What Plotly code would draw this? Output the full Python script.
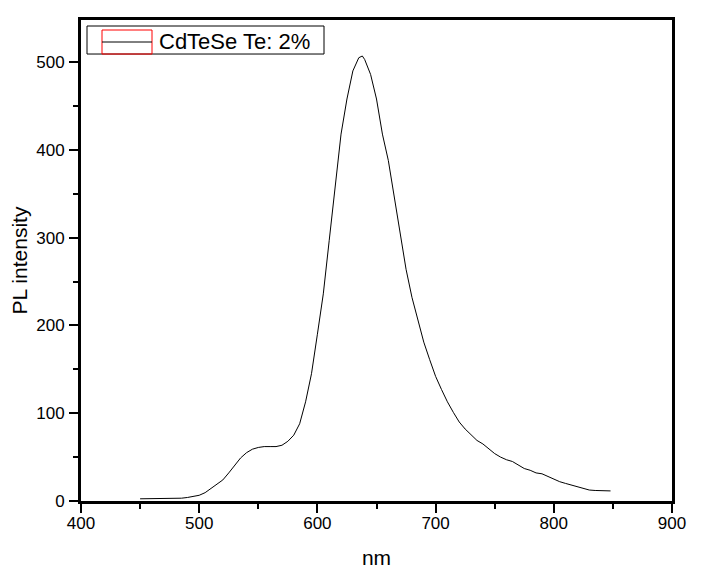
import plotly.graph_objects as go

# PL spectrum
nm = [450, 455, 460, 465, 470, 475, 480, 485, 490, 495,
      500, 505, 510, 515, 520, 525, 530, 535, 540, 545,
      550, 555, 560, 565, 570, 575, 580, 585, 590, 595,
      600, 605, 610, 615, 620, 625, 630, 635, 638, 640,
      645, 650, 655, 660, 665, 670, 675, 680, 685, 690,
      695, 700, 705, 710, 715, 720, 725, 730, 735, 740,
      745, 750, 755, 760, 765, 770, 775, 780, 785, 790,
      795, 800, 805, 810, 815, 820, 825, 830, 835, 840,
      845, 848]
intensity = [2.5, 2.5, 2.5, 2.5, 2.5, 2.7, 2.8, 3.2, 4.0, 5.0,
             6.5, 9.5, 14, 18.5, 24, 32, 41, 49, 55, 59,
             61, 62, 62, 62, 63.5, 68, 75, 88, 113, 145,
             190, 236, 297, 360, 418, 458, 490, 505, 507, 503,
             486, 458, 418, 388, 348, 305, 264, 232, 207, 181,
             161, 142, 127, 113, 101, 90, 82, 75, 69, 65,
             59, 54, 50, 47, 45, 41, 37, 35, 32, 31,
             28, 25, 22, 20, 18, 16, 14, 12.5, 12, 11.5,
             11.5, 11.5]

series_name = "CdTeSe Te: 2%"
x_ticks = [400, 500, 600, 700, 800, 900]
y_ticks = [0, 100, 200, 300, 400, 500]

FONT = "Arial, Liberation Sans, sans-serif"

fig = go.Figure()
fig.add_trace(go.Scatter(x=nm, y=intensity, mode="lines", name=series_name,
                         line=dict(color="black", width=1), showlegend=False))

axis_common = dict(
    showgrid=False, zeroline=False, showline=True, linecolor="black", linewidth=3,
    mirror=True, ticks="outside", ticklen=9, tickwidth=2, tickcolor="black",
    tickfont=dict(family=FONT, size=17, color="black"),
    minor=dict(ticks="outside", ticklen=5, tickwidth=2, tickcolor="black"),
)

fig.update_xaxes(range=[400, 900], tickvals=x_ticks, ticklabelstandoff=-4,
                 minor_dtick=50, minor_tick0=0,
                 title=dict(text="nm", font=dict(family=FONT, size=21, color="black"), standoff=18),
                 **axis_common)
fig.update_yaxes(range=[0, 548], tickvals=y_ticks, ticklabelstandoff=1,
                 minor_dtick=50, minor_tick0=0,
                 title=dict(text="PL intensity", font=dict(family=FONT, size=21, color="black"), standoff=11),
                 **axis_common)

# hand-made legend box like the Origin one (positions in window pixels)
L, T, W, H = 81, 20, 591, 480.7
def px(x):
    return (x - L) / W
def py(y):
    return 1 - (y - T) / H

fig.add_shape(type="rect", xref="paper", yref="paper", x0=px(87), x1=px(324), y0=py(26), y1=py(54),
              line=dict(color="black", width=1), fillcolor="white", layer="above")
fig.add_shape(type="rect", xref="paper", yref="paper", x0=px(102), x1=px(152), y0=py(30), y1=py(54),
              line=dict(color="red", width=1), layer="above")
fig.add_shape(type="line", xref="paper", yref="paper", x0=px(102), x1=px(152), y0=py(42), y1=py(42),
              line=dict(color="black", width=1), layer="above")
fig.add_annotation(xref="paper", yref="paper", x=px(157), y=py(41), xanchor="left", yanchor="middle",
                   text=series_name, showarrow=False,
                   font=dict(family=FONT, size=22, color="black"))

# the page body has an 8px margin, so the figure is 8px smaller and shifted
fig.update_layout(
    width=696, height=568,
    paper_bgcolor="white", plot_bgcolor="white",
    margin=dict(l=73, r=32, t=12, b=75, autoexpand=False),
)

fig.write_html("out.html")
